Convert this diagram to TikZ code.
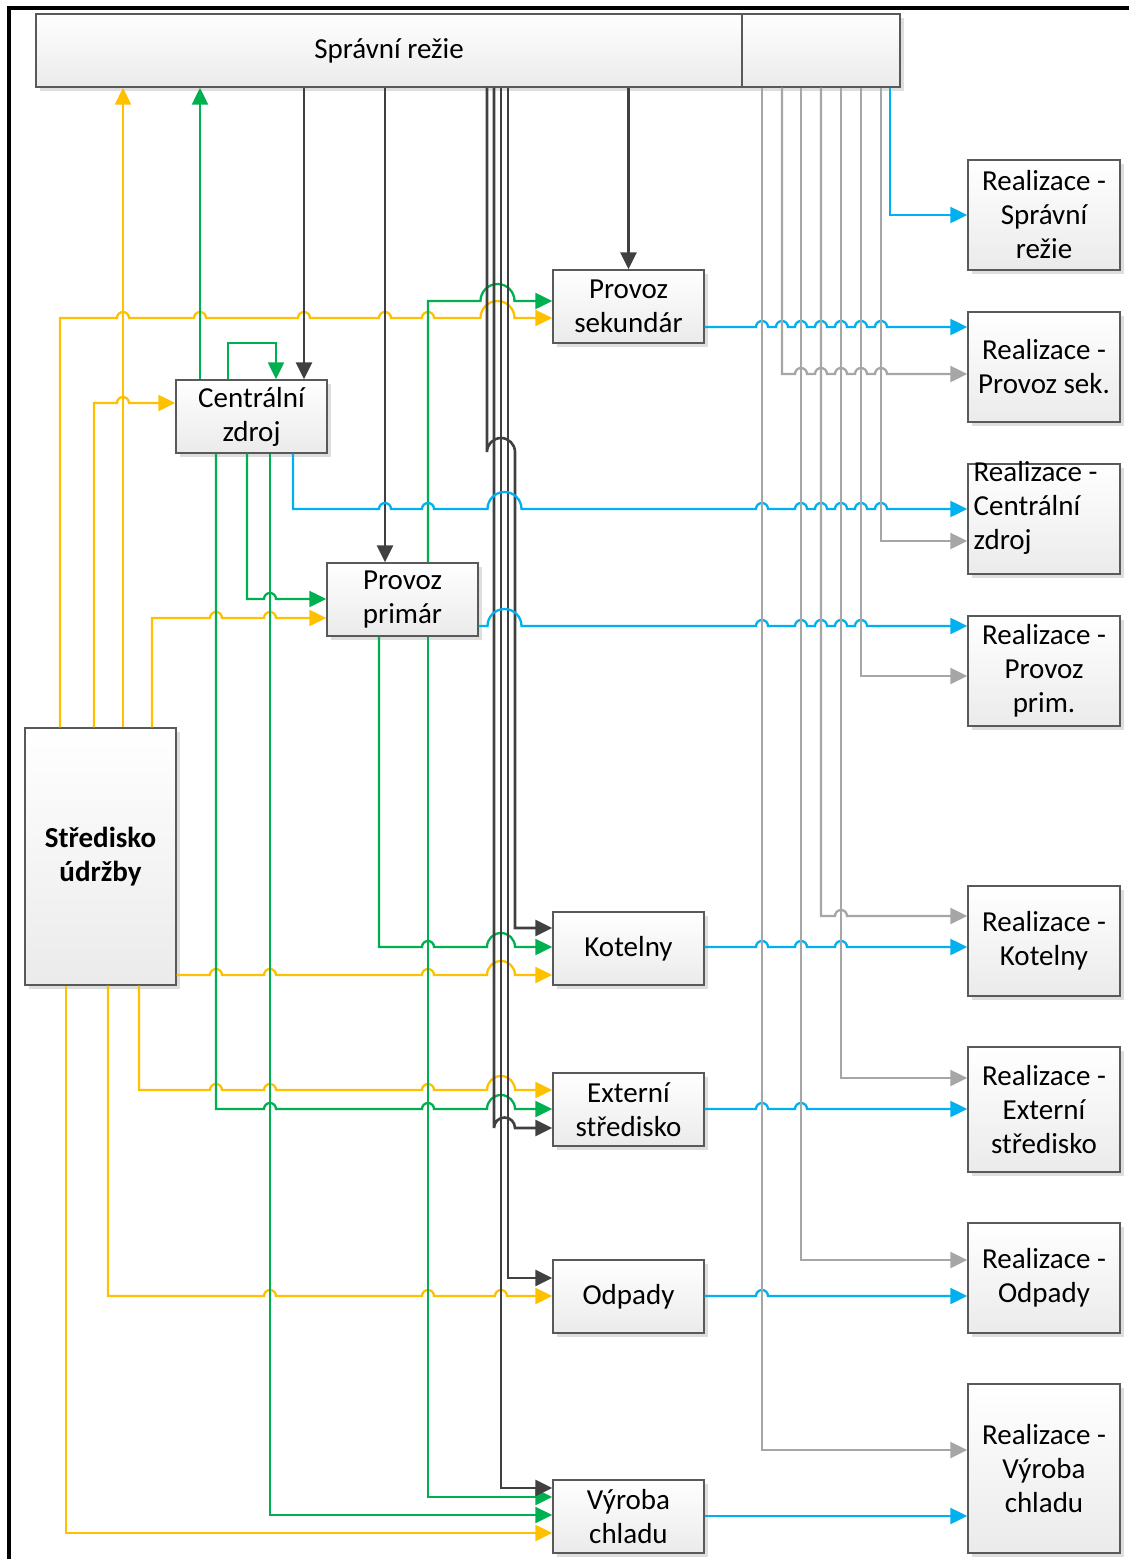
\documentclass[tikz,border=0pt]{standalone}
\usepackage{fontspec}
\setmainfont{Carlito}
\usetikzlibrary{arrows.meta,shadows}
\definecolor{cY}{HTML}{FFC000}
\definecolor{cG}{HTML}{00B050}
\definecolor{cD}{HTML}{404040}
\definecolor{cB}{HTML}{00B0F0}
\definecolor{cL}{HTML}{A6A6A6}
% line jumps: \hops{radius}{y}{x list}
\newcommand\hops[3]{\foreach \hx in {#3}{ -- ({\hx-#1},#2) arc[start angle=180,end angle=0,radius=#1*0.5pt]}}

\begin{document}
\begin{tikzpicture}[x=0.5pt, y=-0.5pt, font=\fontsize{14.5}{17}\selectfont,
  box/.style={draw=black!65, line width=0.7pt, top color=white, bottom color=black!8,
    minimum width=75.5pt, minimum height=36.5pt, inner sep=2pt, align=center,
    drop shadow={shadow xshift=1.8pt, shadow yshift=-1.8pt, fill=black!13, opacity=1}},
  rbox/.style={box, minimum width=76pt, minimum height=55pt},
  ylw/.style={draw=cY, line width=1.15pt, -{Triangle[length=8.5pt,width=8pt]}},
  grn/.style={draw=cG, line width=1.15pt, -{Triangle[length=8.5pt,width=8pt]}},
  drk/.style={draw=cD, line width=1.3pt, -{Triangle[length=8.5pt,width=8pt]}},
  blu/.style={draw=cB, line width=1.15pt, -{Triangle[length=8.5pt,width=8pt]}},
  gry/.style={draw=cL, line width=1.15pt, -{Triangle[length=8.5pt,width=8pt]}}]
\useasboundingbox (0,0) rectangle (1129,1559);
\draw[line width=2pt] (8.5,1559) -- (8.5,8) -- (1129,8);

% boxes
\node[box, minimum width=353pt] (sr) at (389,50.5) {Správní režie};
\node[box, minimum width=79pt] (srx) at (821,50.5) {};
\node[box] (ps) at (628.5,306.5) {Provoz\\sekundár};
\node[box] (cz) at (251.5,416.5) {Centrální\\zdroj};
\node[box] (pp) at (402.5,599.5) {Provoz\\primár};
\node[box, minimum height=128.5pt, font=\fontsize{14.5}{17}\selectfont\bfseries] (su) at (100.5,856.5) {Středisko\\údržby};
\node[box] (ko) at (628.5,948.5) {Kotelny};
\node[box] (es) at (628.5,1109.5) {Externí\\středisko};
\node[box] (od) at (628.5,1296.5) {Odpady};
\node[box] (vc) at (628.5,1516.5) {Výroba\\chladu};
\node[rbox] (rsr) at (1044,215) {Realizace -\\Správní\\režie};
\node[rbox] (rps) at (1044,367) {Realizace -\\Provoz sek.};
\node[rbox, label={[anchor=north west, align=left, inner sep=0pt, xshift=3pt, yshift=1.2pt]north west:Realizace -\\Centrální\\zdroj}] (rcz) at (1044,519) {};
\node[rbox] (rpp) at (1044,671) {Realizace -\\Provoz\\prim.};
\node[rbox] (rko) at (1044,941) {Realizace -\\Kotelny};
\node[rbox, minimum height=62.5pt] (res) at (1044,1109.5) {Realizace -\\Externí\\středisko};
\node[rbox] (rod) at (1044,1278) {Realizace -\\Odpady};
\node[rbox, minimum height=84.5pt] (rvc) at (1044,1468.5) {Realizace -\\Výroba\\chladu};

% yellow
\draw[ylw] (60,0 |- su.north) -- (60,318) \hops{6}{318}{123,200,304,385,428} \hops{17}{318}{497.5} -- (ps.west |- 0,318);
\draw[ylw] (94,0 |- su.north) -- (94,403) \hops{6}{403}{123} -- (cz.west |- 0,403);
\draw[ylw] (123,0 |- su.north) -- (123,0 |- sr.south);
\draw[ylw] (152,0 |- su.north) -- (152,618) \hops{6}{618}{216,270} -- (pp.west |- 0,618);
\draw[ylw] (su.east |- 0,975) \hops{6}{975}{216,270,428} \hops{14}{975}{501} -- (ko.west |- 0,975);
\draw[ylw] (139,0 |- su.south) -- (139,1090) \hops{6}{1090}{216,270,428} \hops{14}{1090}{501} -- (es.west |- 0,1090);
\draw[ylw] (108,0 |- su.south) -- (108,1296) \hops{6}{1296}{270,428,501} -- (od.west |- 0,1296);
\draw[ylw] (66,0 |- su.south) |- (vc.west |- 0,1533);

% green
\draw[grn] (200,0 |- cz.north) -- (200,0 |- sr.south);
\draw[grn] (228,0 |- cz.north) -- (228,343) -- (276,343) -- (276,0 |- cz.north);
\draw[grn] (247,0 |- cz.south) -- (247,599) \hops{6}{599}{270} -- (pp.west |- 0,599);
\draw[grn] (216,0 |- cz.south) -- (216,1109) \hops{6}{1109}{270,428} \hops{14}{1109}{501} -- (es.west |- 0,1109);
\draw[grn] (270,0 |- cz.south) |- (vc.west |- 0,1515);
\draw[grn] (428,0 |- pp.north) -- (428,301) \hops{17}{301}{497.5} -- (ps.west |- 0,301);
\draw[grn] (379,0 |- pp.south) -- (379,947) \hops{6}{947}{428} \hops{14}{947}{501} -- (ko.west |- 0,947);
\draw[grn] (428,0 |- pp.south) |- (vc.west |- 0,1497);

% dark
\draw[drk] (304,0 |- sr.south) -- (304,0 |- cz.north);
\draw[drk] (385,0 |- sr.south) -- (385,0 |- pp.north);
\draw[drk] (ps.north |- sr.south) -- (ps.north);
\draw[drk] (487,0 |- sr.south) -- (487,452) \hops{14}{452}{501} |- (ko.west |- 0,928);
\draw[drk] (494,0 |- sr.south) -- (494,1128) \hops{10.5}{1128}{504.5} -- (es.west |- 0,1128);
\draw[drk] (508,0 |- sr.south) |- (od.west |- 0,1278);
\draw[drk] (501,0 |- sr.south) |- (vc.west |- 0,1488);

% blue
\draw[blu] (890,0 |- srx.south) |- (rsr.west |- 0,215);
\draw[blu] (ps.east |- 0,327) \hops{6}{327}{762,782,801,821,841,861,881} -- (rps.west |- 0,327);
\draw[blu] (293,0 |- cz.south) -- (293,509) \hops{6}{509}{385,428} \hops{17}{509}{504.5} \hops{6}{509}{762,801,821,841,861,881} -- (rcz.west |- 0,509);
\draw[blu] (pp.east |- 0,626) \hops{17}{626}{504.5} \hops{6}{626}{762,801,821,841,861} -- (rpp.west |- 0,626);
\draw[blu] (ko.east |- 0,947) \hops{6}{947}{762,801,841} -- (rko.west |- 0,947);
\draw[blu] (es.east |- 0,1109) \hops{6}{1109}{762,801} -- (res.west |- 0,1109);
\draw[blu] (od.east |- 0,1296) \hops{6}{1296}{762} -- (rod.west |- 0,1296);
\draw[blu] (vc.east |- 0,1516) -- (rvc.west |- 0,1516);

% light gray
\draw[gry] (782,0 |- srx.south) -- (782,374) \hops{6}{374}{801,821,841,861,881} -- (rps.west |- 0,374);
\draw[gry] (881,0 |- srx.south) |- (rcz.west |- 0,541);
\draw[gry] (861,0 |- srx.south) |- (rpp.west |- 0,676);
\draw[gry] (821,0 |- srx.south) -- (821,916) \hops{6}{916}{841} -- (rko.west |- 0,916);
\draw[gry] (841,0 |- srx.south) |- (res.west |- 0,1078);
\draw[gry] (801,0 |- srx.south) |- (rod.west |- 0,1260);
\draw[gry] (762,0 |- srx.south) |- (rvc.west |- 0,1450);
\end{tikzpicture}
\end{document}
